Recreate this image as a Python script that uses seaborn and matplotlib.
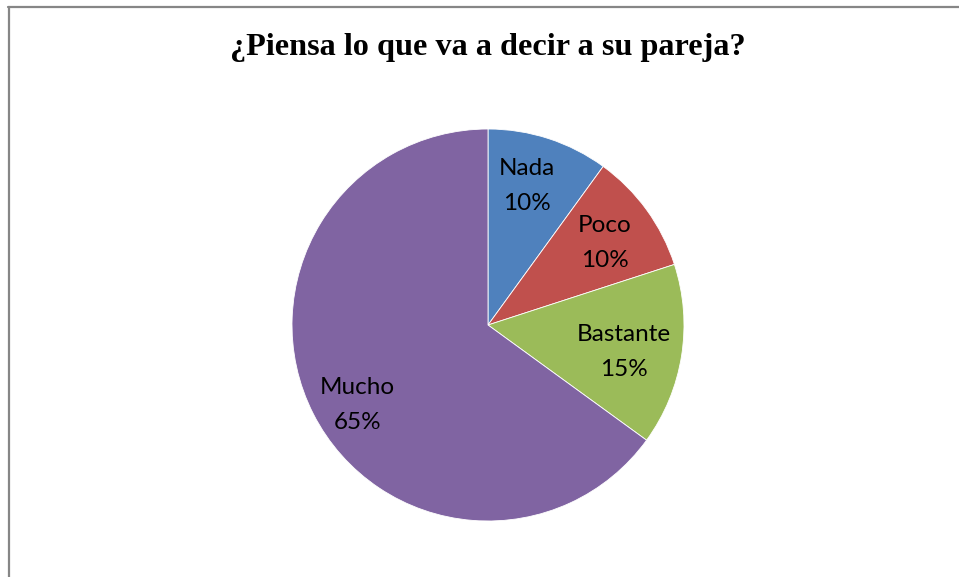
import matplotlib
matplotlib.use("Agg")
import matplotlib.pyplot as plt
import seaborn as sns
from matplotlib.lines import Line2D

categories = ["Nada", "Poco", "Bastante", "Mucho"]
values = [10, 10, 15, 65]
colors = ["#4F81BD", "#C0504D", "#9BBB59", "#8064A2"]
title = "¿Piensa lo que va a decir a su pareja?"

sns.set_theme(style="white")
plt.rcParams['font.family'] = ['Lato', 'DejaVu Sans']

W, H = 959, 577
fig = plt.figure(figsize=(W / 100, H / 100), dpi=100)
fig.patch.set_facecolor("white")

cx, cy, r = 488, 325, 196
ax = fig.add_axes([(cx - r) / W, (H - cy - r) / H, 2 * r / W, 2 * r / H])
palette = sns.color_palette(colors)
labels = [f"{c}\n{v}%" for c, v in zip(categories, values)]
wedges, texts = ax.pie(values, colors=palette, startangle=90, counterclock=False,
                       labels=labels, labeldistance=0.73,
                       wedgeprops=dict(edgecolor="white", linewidth=0.6),
                       textprops=dict(fontsize=17.5, color="black", ha="center", va="center",
                                      linespacing=1.8))
# label placement (layout only)
label_pos = [(0.199, 0.709), (0.597, 0.418), (0.694, -0.138), (-0.668, -0.408)]
for t, p in zip(texts, label_pos):
    t.set_horizontalalignment("center")
    t.set_position(p)
ax.set_xlim(-1, 1)
ax.set_ylim(-1, 1)
ax.axis("off")

fig.text(cx / W, 1 - 48 / H, title, ha="center", va="center", color="black",
         fontsize=23.2, fontweight="bold", family=["Liberation Serif", "DejaVu Serif"])

# chart-area border (only top and left visible)
fig.add_artist(Line2D([8 / W, 1], [1 - 6.5 / H, 1 - 6.5 / H], transform=fig.transFigure,
                      color="#868686", linewidth=1.6))
fig.add_artist(Line2D([8.5 / W, 8.5 / W], [0, 1 - 6.5 / H], transform=fig.transFigure,
                      color="#868686", linewidth=1.6))

fig.savefig("out.png", dpi=100, facecolor="white")
